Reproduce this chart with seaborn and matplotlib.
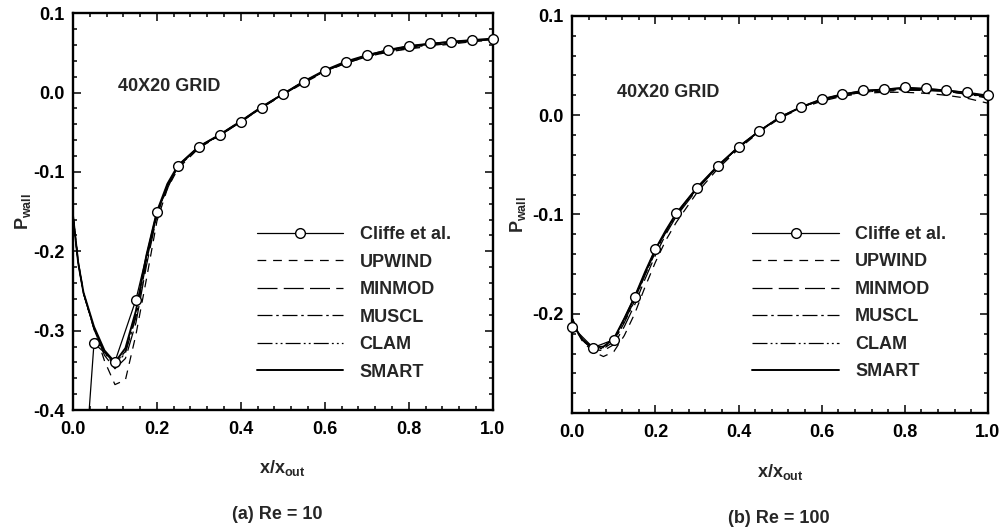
import matplotlib
matplotlib.use('Agg')
import matplotlib.pyplot as plt
import seaborn as sns
import pandas as pd
from matplotlib.ticker import MultipleLocator, FixedLocator, FixedFormatter
from matplotlib.transforms import Bbox, TransformedBbox

# ---------------- data ----------------
x_grid = [0.0, 0.0125, 0.025, 0.05, 0.075, 0.1, 0.125, 0.15, 0.175, 0.2, 0.225, 0.25,
          0.3, 0.35, 0.4, 0.45, 0.5, 0.55, 0.6, 0.65, 0.7, 0.75, 0.8, 0.85, 0.9, 0.95, 1.0]

# Re = 10
cliffe_x_re10 = [0.025, 0.05, 0.10, 0.15, 0.20, 0.25, 0.30, 0.35, 0.40, 0.45, 0.50,
                 0.55, 0.60, 0.65, 0.70, 0.75, 0.80, 0.85, 0.90, 0.95, 1.00]
cliffe_y_re10 = [-0.50, -0.316, -0.339, -0.261, -0.150, -0.092, -0.068, -0.054, -0.037, -0.019, -0.002,
                 0.013, 0.027, 0.038, 0.047, 0.054, 0.059, 0.062, 0.064, 0.066, 0.067]
upwind_re10 = [-0.155, -0.213, -0.252, -0.298, -0.338, -0.368, -0.362, -0.305, -0.235, -0.162, -0.121, -0.096,
               -0.070, -0.054, -0.037, -0.019, -0.003, 0.012, 0.026, 0.037, 0.045, 0.051, 0.055, 0.058, 0.061, 0.064, 0.066]
minmod_re10 = [-0.155, -0.214, -0.253, -0.298, -0.331, -0.348, -0.335, -0.290, -0.218, -0.155, -0.118, -0.094,
               -0.069, -0.054, -0.037, -0.019, -0.003, 0.013, 0.027, 0.037, 0.045, 0.051, 0.056, 0.059, 0.062, 0.065, 0.067]
muscl_re10 = [-0.155, -0.215, -0.253, -0.297, -0.328, -0.344, -0.328, -0.283, -0.213, -0.153, -0.117, -0.093,
              -0.069, -0.053, -0.036, -0.018, -0.002, 0.014, 0.027, 0.038, 0.046, 0.052, 0.057, 0.060, 0.063, 0.065, 0.067]
clam_re10 = [-0.155, -0.215, -0.253, -0.296, -0.327, -0.342, -0.326, -0.280, -0.210, -0.152, -0.116, -0.093,
             -0.068, -0.053, -0.036, -0.018, -0.002, 0.014, 0.027, 0.038, 0.046, 0.052, 0.057, 0.060, 0.063, 0.065, 0.067]
smart_re10 = [-0.155, -0.215, -0.252, -0.295, -0.325, -0.340, -0.322, -0.275, -0.205, -0.150, -0.115, -0.092,
              -0.068, -0.053, -0.036, -0.018, -0.002, 0.014, 0.028, 0.039, 0.047, 0.053, 0.058, 0.061, 0.064, 0.066, 0.068]

# Re = 100
cliffe_x_re100 = [0.00, 0.05, 0.10, 0.15, 0.20, 0.25, 0.30, 0.35, 0.40, 0.45, 0.50,
                  0.55, 0.60, 0.65, 0.70, 0.75, 0.80, 0.85, 0.90, 0.95, 1.00]
cliffe_y_re100 = [-0.213, -0.234, -0.226, -0.183, -0.135, -0.099, -0.073, -0.051, -0.032, -0.016, -0.002,
                  0.008, 0.016, 0.021, 0.025, 0.026, 0.028, 0.027, 0.025, 0.023, 0.020]
upwind_re100 = [-0.205, -0.219, -0.228, -0.238, -0.243, -0.238, -0.222, -0.200, -0.173, -0.148, -0.126, -0.108,
                -0.078, -0.054, -0.034, -0.017, -0.003, 0.007, 0.014, 0.019, 0.022, 0.023, 0.023, 0.022, 0.020, 0.017, 0.012]
minmod_re100 = [-0.205, -0.218, -0.227, -0.236, -0.237, -0.231, -0.213, -0.191, -0.165, -0.141, -0.120, -0.102,
                -0.075, -0.052, -0.033, -0.016, -0.002, 0.008, 0.015, 0.020, 0.023, 0.024, 0.025, 0.025, 0.024, 0.021, 0.017]
muscl_re100 = [-0.205, -0.218, -0.227, -0.235, -0.235, -0.228, -0.209, -0.187, -0.161, -0.138, -0.118, -0.100,
               -0.074, -0.052, -0.032, -0.016, -0.002, 0.008, 0.015, 0.020, 0.023, 0.025, 0.026, 0.025, 0.024, 0.021, 0.018]
clam_re100 = [-0.205, -0.218, -0.227, -0.235, -0.234, -0.227, -0.208, -0.186, -0.160, -0.137, -0.117, -0.100,
              -0.074, -0.052, -0.032, -0.016, -0.002, 0.008, 0.016, 0.020, 0.023, 0.025, 0.026, 0.026, 0.025, 0.022, 0.018]
smart_re100 = [-0.205, -0.218, -0.226, -0.234, -0.233, -0.225, -0.205, -0.183, -0.158, -0.135, -0.116, -0.099,
               -0.073, -0.051, -0.032, -0.016, -0.002, 0.008, 0.016, 0.021, 0.024, 0.026, 0.027, 0.026, 0.025, 0.022, 0.019]

scheme_names = ['UPWIND', 'MINMOD', 'MUSCL', 'CLAM', 'SMART']
x_ticks = [0.0, 0.2, 0.4, 0.6, 0.8, 1.0]
x_ticklabels = ['0.0', '0.2', '0.4', '0.6', '0.8', '1.0']
y_ticks_re10 = [-0.4, -0.3, -0.2, -0.1, 0.0, 0.1]
y_ticklabels_re10 = ['-0.4', '-0.3', '-0.2', '-0.1', '0.0', '0.1']
y_ticks_re100 = [-0.2, -0.1, 0.0, 0.1]
y_ticklabels_re100 = ['-0.2', '-0.1', '0.0', '0.1']

# ---------------- style ----------------
sns.set_style('ticks')
plt.rcParams['font.family'] = ['Liberation Sans', 'DejaVu Sans']
plt.rcParams['font.weight'] = 'bold'
plt.rcParams['axes.unicode_minus'] = False
plt.rcParams['mathtext.fontset'] = 'custom'
plt.rcParams['mathtext.rm'] = 'Liberation Sans:bold'
plt.rcParams['mathtext.it'] = 'Liberation Sans:bold'
plt.rcParams['mathtext.bf'] = 'Liberation Sans:bold'

FS = 13
styles = {
    'UPWIND': dict(linestyle=(0, (7, 5.5)), linewidth=0.9),
    'MINMOD': dict(linestyle=(0, (16, 5)), linewidth=0.9),
    'MUSCL': dict(linestyle=(0, (12, 3, 2, 3)), linewidth=0.9),
    'CLAM': dict(linestyle=(0, (12, 2.5, 1.5, 2.5, 1.5, 2.5)), linewidth=0.9),
    'SMART': dict(linestyle='-', linewidth=1.4),
}

fig = plt.figure(figsize=(10.04, 5.27), dpi=100)
axL = fig.add_axes([0.0727, 0.222, 0.418, 0.753])
axR = fig.add_axes([0.570, 0.216, 0.414, 0.754])

panels = [
    (axL, cliffe_x_re10, cliffe_y_re10,
     [upwind_re10, minmod_re10, muscl_re10, clam_re10, smart_re10],
     (-0.4, 0.1), y_ticks_re10, y_ticklabels_re10, (0.107, 0.007), (0.438, 0.463), -0.095),
    (axR, cliffe_x_re100, cliffe_y_re100,
     [upwind_re100, minmod_re100, muscl_re100, clam_re100, smart_re100],
     (-0.3, 0.1), y_ticks_re100, y_ticklabels_re100, (0.108, 0.023), (0.433, 0.471), -0.106),
]

for ax, cx, cy, schemes, ylim, yt, ytl, txtpos, legpos, ylab_x in panels:
    handles = {}
    for name, vals in zip(scheme_names, schemes):
        df = pd.DataFrame({'x': x_grid, 'y': vals})
        sns.lineplot(data=df, x='x', y='y', ax=ax, color='black', estimator=None,
                     label=name, **styles[name])
        handles[name] = ax.lines[-1]
    dfc = pd.DataFrame({'x': cx, 'y': cy})
    sns.lineplot(data=dfc, x='x', y='y', ax=ax, color='black', estimator=None,
                 linewidth=0.9, marker='o', markersize=7, markerfacecolor='white',
                 markeredgecolor='black', markeredgewidth=1.0, label='Cliffe et al.', zorder=5)
    cl = ax.lines[-1]
    cl.set_clip_box(TransformedBbox(Bbox([[-0.05, 0.0], [1.05, 1.0]]), ax.transAxes))
    handles['Cliffe et al.'] = cl

    ax.set_xlim(0, 1)
    ax.set_ylim(*ylim)
    ax.xaxis.set_major_locator(FixedLocator(x_ticks))
    ax.xaxis.set_major_formatter(FixedFormatter(x_ticklabels))
    ax.yaxis.set_major_locator(FixedLocator(yt))
    ax.yaxis.set_major_formatter(FixedFormatter(ytl))
    ax.xaxis.set_minor_locator(MultipleLocator(0.04))
    ax.yaxis.set_minor_locator(MultipleLocator(0.02))
    ax.tick_params(which='both', direction='in', top=True, right=True, width=1.1, colors='black')
    ax.tick_params(which='major', length=5.5, labelsize=FS, pad=6)
    ax.tick_params(axis='x', which='major', pad=8)
    ax.tick_params(which='minor', length=3)
    for lab in ax.get_xticklabels() + ax.get_yticklabels():
        lab.set_fontweight('bold')
    for sp in ax.spines.values():
        sp.set_linewidth(1.7)
        sp.set_color('black')

    ax.set_xlabel('x/x$_\\mathrm{out}$', fontsize=FS, fontweight='bold')
    ax.xaxis.set_label_coords(0.5, -0.122)
    ax.set_ylabel('P$_\\mathrm{wall}$', fontsize=FS, fontweight='bold')
    ax.yaxis.set_label_coords(ylab_x, 0.5)

    ax.text(txtpos[0], txtpos[1], '40X20 GRID', fontsize=FS, fontweight='bold',
            ha='left', va='center', transform=ax.transData)

    order = ['Cliffe et al.'] + scheme_names
    leg = ax.legend([handles[n] for n in order], order, loc='upper left',
                    bbox_to_anchor=legpos, frameon=False, fontsize=FS,
                    handlelength=4.8, handletextpad=0.9, labelspacing=0.58,
                    borderpad=0, borderaxespad=0, numpoints=1)
    for t in leg.get_texts():
        t.set_fontweight('bold')

fig.text(0.276, 0.024, '(a) Re = 10', ha='center', va='center', fontsize=FS, fontweight='bold')
fig.text(0.776, 0.017, '(b) Re = 100', ha='center', va='center', fontsize=FS, fontweight='bold')

fig.savefig('out.png', dpi=100)
